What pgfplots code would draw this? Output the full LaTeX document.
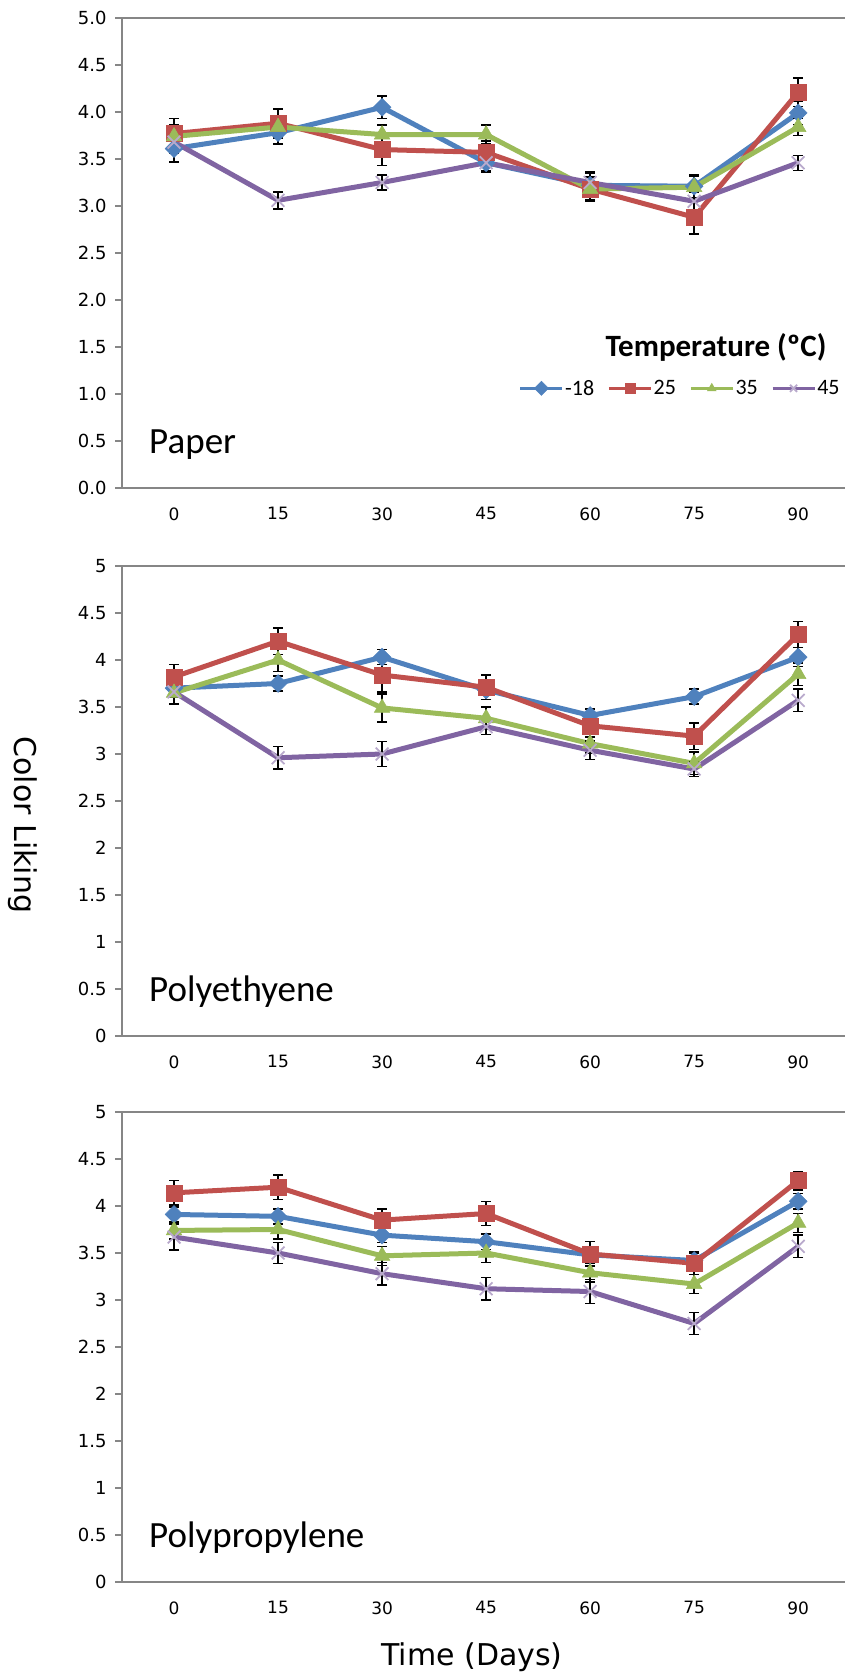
\documentclass[border=0pt]{standalone}
\usepackage{fontspec}
\setmainfont{Carlito}
\newfontfamily\dejavu{DejaVu Sans}
\usepackage{pgfplots}
\pgfplotsset{compat=1.18}
\usepackage{pgfplotstable}
\definecolor{cblue}{HTML}{4F81BD}
\definecolor{cred}{HTML}{C0504D}
\definecolor{cgreen}{HTML}{9BBB59}
\definecolor{cpurple}{HTML}{8064A2}
\definecolor{axisgray}{HTML}{868686}

% Paper
\pgfplotstableread{
x y e
0 3.61 0.14
1 3.78 0.12
2 4.05 0.12
3 3.46 0.10
4 3.22 0.15
5 3.21 0.12
6 3.99 0.12
}\pAb
\pgfplotstableread{
x y e
0 3.77 0.16
1 3.88 0.15
2 3.60 0.17
3 3.57 0.12
4 3.18 0.13
5 2.88 0.18
6 4.21 0.15
}\pAr
\pgfplotstableread{
x y e
0 3.74 0.12
1 3.84 0.12
2 3.76 0.10
3 3.76 0.10
4 3.18 0.12
5 3.20 0.12
6 3.84 0.09
}\pAg
\pgfplotstableread{
x y e
0 3.68 0.12
1 3.06 0.09
2 3.25 0.08
3 3.46 0.08
4 3.25 0.10
5 3.05 0.10
6 3.46 0.08
}\pAp
% Polyethyene
\pgfplotstableread{
x y e
0 3.70 0.10
1 3.75 0.08
2 4.03 0.08
3 3.68 0.10
4 3.41 0.07
5 3.61 0.08
6 4.03 0.10
}\pBb
\pgfplotstableread{
x y e
0 3.82 0.13
1 4.20 0.14
2 3.84 0.18
3 3.71 0.13
4 3.30 0.12
5 3.19 0.14
6 4.27 0.14
}\pBr
\pgfplotstableread{
x y e
0 3.65 0.12
1 4.00 0.12
2 3.49 0.15
3 3.38 0.12
4 3.11 0.10
5 2.90 0.12
6 3.85 0.12
}\pBg
\pgfplotstableread{
x y e
0 3.66 0.12
1 2.96 0.12
2 3.00 0.13
3 3.29 0.08
4 3.04 0.10
5 2.84 0.08
6 3.57 0.12
}\pBp
% Polypropylene
\pgfplotstableread{
x y e
0 3.91 0.08
1 3.89 0.08
2 3.69 0.08
3 3.62 0.08
4 3.48 0.07
5 3.42 0.08
6 4.05 0.08
}\pCb
\pgfplotstableread{
x y e
0 4.14 0.13
1 4.20 0.13
2 3.85 0.12
3 3.92 0.13
4 3.49 0.13
5 3.39 0.12
6 4.27 0.10
}\pCr
\pgfplotstableread{
x y e
0 3.74 0.09
1 3.75 0.10
2 3.47 0.10
3 3.50 0.10
4 3.29 0.10
5 3.17 0.10
6 3.82 0.10
}\pCg
\pgfplotstableread{
x y e
0 3.67 0.14
1 3.50 0.11
2 3.28 0.12
3 3.12 0.12
4 3.09 0.13
5 2.75 0.12
6 3.57 0.12
}\pCp

\pgfplotsset{
  panel/.style={
    scale only axis, width=723pt, height=470pt,
    xmin=-0.5, xmax=6.45, ymin=0, ymax=5,
    xtick={0,1,2,3,4,5,6}, xticklabels={0,15,30,45,60,75,90},
    ytick={0,0.5,1,1.5,2,2.5,3,3.5,4,4.5,5},
    axis x line*=bottom, axis y line*=left,
    axis line style={-, axisgray, line width=1.5pt},
    tick align=outside,
    major tick length=7pt,
    ytick style={axisgray, line width=1.5pt},
    xtick style={draw=none},
    /pgf/number format/assume math mode=true,
    yticklabel style={font=\dejavu\fontsize{18}{21}\selectfont, text=black, xshift=-5pt},
    xticklabel style={font=\dejavu\fontsize{17}{20}\selectfont, text=black, yshift=-9pt},
    clip=false,
    error bars/y dir=both, error bars/y explicit,
    error bars/error bar style={black, solid, line width=1.4pt},
    error bars/error mark options={rotate=90, black, mark size=5pt, line width=1.4pt},
    legend image code/.code={\draw[mark repeat=2,mark phase=2,##1,line width=2.5pt,mark size=5pt] plot coordinates {(0pt,0pt)(21pt,0pt)(42pt,0pt)};},
  },
  sb/.style={color=cblue, line width=5pt, mark=square*, mark size=6.3pt, mark options={solid, rotate=45, fill=cblue, line width=0.5pt}},
  sr/.style={color=cred, line width=5pt, mark=square*, mark size=8pt, mark options={solid, fill=cred, line width=0.5pt}},
  sg/.style={color=cgreen, line width=5pt, mark=triangle*, mark size=9pt, mark options={solid, fill=cgreen, line width=0.5pt}},
  sp/.style={color=cpurple, line width=5pt, mark=x, mark size=9pt, mark options={solid, line width=1.8pt, draw=cpurple!55}},
}

\begin{document}
\begin{tikzpicture}[x=1pt,y=1pt]
\useasboundingbox (0,0) rectangle (845,1680);

% Panel 1: Paper
\begin{axis}[panel, at={(122pt,1192pt)}, anchor=south west,
  yticklabel style={/pgf/number format/.cd, fixed, fixed zerofill, precision=1},
  legend style={draw=none, fill=none, at={(axis description cs:0.772,0.212)}, anchor=center,
    legend columns=4, font=\fontsize{22}{26}\selectfont, inner sep=0pt,
    nodes={inner sep=1.5pt},
    /tikz/every even column/.append style={column sep=12pt}},
]
\draw[axisgray, line width=1.5pt] (rel axis cs:0,1) -- (rel axis cs:1,1);
\addplot[sb] table[x=x,y=y,y error=e]{\pAb};
\addplot[sr] table[x=x,y=y,y error=e]{\pAr};
\addplot[sg] table[x=x,y=y,y error=e]{\pAg};
\addplot[sp] table[x=x,y=y,y error=e]{\pAp};
\legend{-18,25,35,45}
\node[anchor=base west, inner sep=0pt, font=\fontsize{37}{44}\selectfont] at (axis cs:-0.24,0.37) {Paper};
\node[anchor=center, inner sep=0pt, font=\bfseries\fontsize{31}{36}\selectfont] at (axis cs:5.21,1.49) {Temperature (ºC)};
\end{axis}

% Panel 2: Polyethyene
\begin{axis}[panel, at={(122pt,644pt)}, anchor=south west]
\draw[axisgray, line width=1.5pt] (rel axis cs:0,1) -- (rel axis cs:1,1);
\addplot[sb] table[x=x,y=y,y error=e]{\pBb};
\addplot[sr] table[x=x,y=y,y error=e]{\pBr};
\addplot[sg] table[x=x,y=y,y error=e]{\pBg};
\addplot[sp] table[x=x,y=y,y error=e]{\pBp};
\node[anchor=base west, inner sep=0pt, font=\fontsize{37}{44}\selectfont] at (axis cs:-0.24,0.37) {Polyethyene};
\end{axis}

% Panel 3: Polypropylene
\begin{axis}[panel, at={(122pt,98pt)}, anchor=south west]
\draw[axisgray, line width=1.5pt] (rel axis cs:0,1) -- (rel axis cs:1,1);
\addplot[sb] table[x=x,y=y,y error=e]{\pCb};
\addplot[sr] table[x=x,y=y,y error=e]{\pCr};
\addplot[sg] table[x=x,y=y,y error=e]{\pCg};
\addplot[sp] table[x=x,y=y,y error=e]{\pCp};
\node[anchor=base west, inner sep=0pt, font=\fontsize{37}{44}\selectfont] at (axis cs:-0.24,0.37) {Polypropylene};
\end{axis}

\node[anchor=base, inner sep=0pt, font=\dejavu\fontsize{30}{36}\selectfont] at (472,14) {Time (Days)};
\node[rotate=-90, inner sep=0pt, font=\dejavu\fontsize{30}{36}\selectfont] at (23,855) {Color Liking};
\end{tikzpicture}
\end{document}
